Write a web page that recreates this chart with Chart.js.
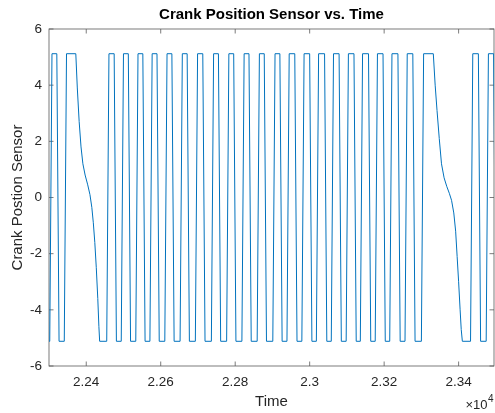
<!DOCTYPE html>
<html>
<head>
<meta charset="utf-8">
<script src="https://cdn.jsdelivr.net/npm/chart.js@4.4.1/dist/chart.umd.min.js"></script>
<style>
  html, body { margin: 0; padding: 0; background: #fff; }
</style>
</head>
<body>
<canvas id="crankChart" width="495" height="413"></canvas>
<script>
// values (time, sensor output)
let pulseTopStart = [22308, 22347, 22461, 22500, 22539, 22577, 22617, 22658, 22699, 22742, 22783, 22824, 22865,
  22907, 22945, 22985, 23024, 23064, 23104, 23142, 23182, 23221, 23262, 23306, 23438, 23480];
let pulseTopEnd = [22321, 22372, 22475, 22513, 22552, 22590, 22630, 22671, 22713, 22755, 22796, 22837, 22878,
  22920, 22960, 23000, 23040, 23079, 23119, 23158, 23197, 23237, 23277, 23332, 23453, 23494];

// slow fall after the long teeth (missing tooth gap)
let decayATime = [22376, 22381, 22386, 22391, 22397, 22404, 22410, 22415, 22419, 22423, 22427, 22431, 22434, 22436];
let decayAValue = [3.9, 2.7, 1.8, 1.2, 0.8, 0.45, 0.1, -0.35, -0.9, -1.6, -2.5, -3.6, -4.6, -5.12];
let decayBTime = [23337, 23342, 23348, 23354, 23361, 23368, 23375, 23381, 23387, 23392, 23396, 23400, 23404, 23407, 23410];
let decayBValue = [4.0, 3.1, 2.1, 1.2, 0.7, 0.4, 0.15, -0.1, -0.55, -1.2, -2.1, -3.0, -4.0, -4.7, -5.12];

let highLevel = 5.12;
let lowLevel = -5.12;
let edgeTime = 6;

let xTickValues = [22400, 22600, 22800, 23000, 23200, 23400];
let yTickValues = [-6, -4, -2, 0, 2, 4, 6];

// build the point list from the edges
let points = [{x: 22290, y: lowLevel}];
for (let i = 0; i < pulseTopStart.length; i++) {
  points.push({x: pulseTopStart[i] - edgeTime, y: lowLevel});
  points.push({x: pulseTopStart[i], y: highLevel});
  points.push({x: pulseTopEnd[i], y: highLevel});
  if (i === 1) {
    for (let j = 0; j < decayATime.length; j++) points.push({x: decayATime[j], y: decayAValue[j]});
  } else if (i === 23) {
    for (let j = 0; j < decayBTime.length; j++) points.push({x: decayBTime[j], y: decayBValue[j]});
  } else {
    points.push({x: pulseTopEnd[i] + edgeTime, y: lowLevel});
  }
}

const axisColor = '#262626';
const fontFamily = '"Liberation Sans", Arial, Helvetica, sans-serif';
const tickLen = 4.5;

const matlabBox = {
  id: 'matlabBox',
  beforeDatasetsDraw(chart) {
    const {ctx, chartArea: a, scales: {x, y}} = chart;
    ctx.save();
    ctx.strokeStyle = '#5a5a5a';
    ctx.lineWidth = 0.8;
    ctx.strokeRect(a.left, a.top, a.right - a.left, a.bottom - a.top);
    ctx.beginPath();
    x.ticks.forEach(t => {
      let px = x.getPixelForValue(t.value);
      ctx.moveTo(px, a.bottom); ctx.lineTo(px, a.bottom - tickLen);
      ctx.moveTo(px, a.top); ctx.lineTo(px, a.top + tickLen);
    });
    y.ticks.forEach(t => {
      let py = y.getPixelForValue(t.value);
      ctx.moveTo(a.left, py); ctx.lineTo(a.left + tickLen, py);
      ctx.moveTo(a.right, py); ctx.lineTo(a.right - tickLen, py);
    });
    ctx.stroke();
    ctx.restore();
  },
  afterDraw(chart) {
    const {ctx, chartArea: a} = chart;
    ctx.save();
    ctx.fillStyle = axisColor;
    ctx.textBaseline = 'alphabetic';
    ctx.textAlign = 'right';
    ctx.font = '13px ' + fontFamily;
    ctx.fillText('\u00d710', a.right - 6.5, 409);
    ctx.textAlign = 'left';
    ctx.font = '10px ' + fontFamily;
    ctx.fillText('4', a.right - 6, 402);
    ctx.restore();
  }
};

let crankChart = new Chart(document.getElementById('crankChart'), {
  type: 'line',
  data: {
    datasets: [{
      data: points,
      borderColor: '#0072BD',
      borderWidth: 1,
      pointRadius: 0,
      tension: 0,
      fill: false
    }]
  },
  options: {
    responsive: false,
    animation: false,
    devicePixelRatio: 1,
    layout: {padding: {top: 0, right: 1, left: 0, bottom: 0}},
    plugins: {
      legend: {display: false},
      tooltip: {enabled: false},
      title: {
        display: true,
        text: 'Crank Position Sensor vs. Time',
        fullSize: false,
        color: '#000',
        font: {family: fontFamily, size: 15, weight: 'bold'},
        padding: {top: 6, bottom: 5}
      }
    },
    scales: {
      x: {
        type: 'linear',
        min: 22300,
        max: 23495,
        afterBuildTicks: scale => { scale.ticks = xTickValues.map(v => ({value: v})); },
        afterFit: scale => { scale.height = 47; },
        grid: {display: false, drawTicks: false},
        border: {display: false},
        ticks: {
          color: axisColor,
          padding: 8,
          maxRotation: 0,
          font: {family: fontFamily, size: 13.5},
          callback: v => String(Math.round(v) / 1e4)
        },
        title: {
          display: true,
          text: 'Time',
          color: axisColor,
          font: {family: fontFamily, size: 15},
          padding: {top: 0, bottom: 2}
        }
      },
      y: {
        min: -6,
        max: 6,
        afterBuildTicks: scale => { scale.ticks = yTickValues.map(v => ({value: v})); },
        afterFit: scale => { scale.width = 49; },
        grid: {display: false, drawTicks: false},
        border: {display: false},
        ticks: {
          color: axisColor,
          padding: 7,
          font: {family: fontFamily, size: 13.5},
          callback: v => String(v)
        },
        title: {
          display: true,
          text: 'Crank Postion Sensor',
          color: axisColor,
          font: {family: fontFamily, size: 15},
          padding: {top: 8.5, bottom: 0}
        }
      }
    }
  },
  plugins: [matlabBox]
});
</script>
</body>
</html>
